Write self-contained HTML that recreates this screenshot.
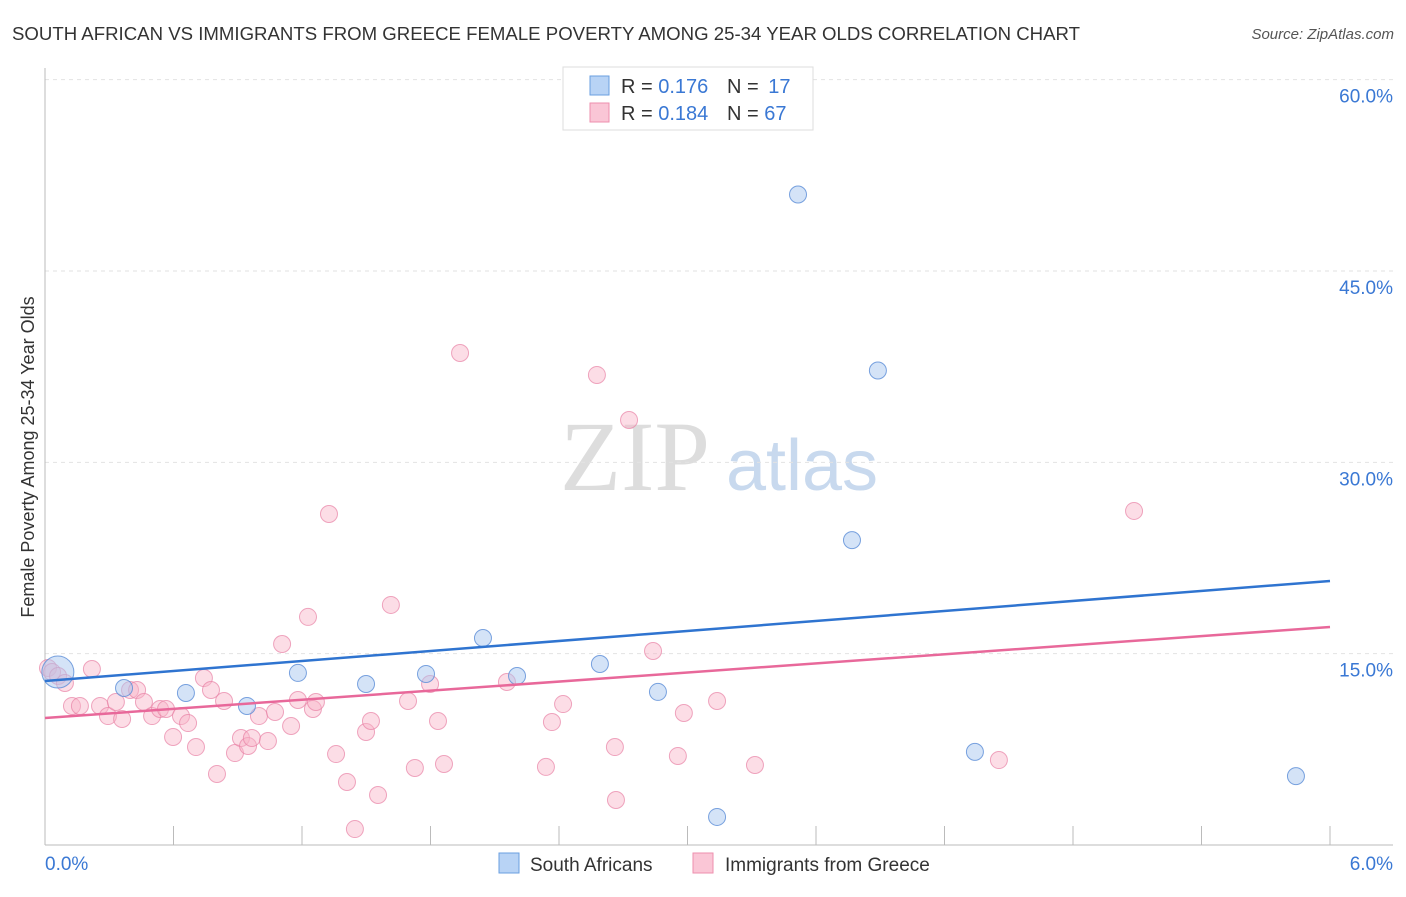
<!DOCTYPE html>
<html><head><meta charset="utf-8"><style>
body{margin:0;background:#fff;font-family:"Liberation Sans",sans-serif;}
svg text{font-family:"Liberation Sans",sans-serif;}
</style></head><body>
<svg id="chart" width="1406" height="892">
<text x="12" y="40" font-size="18" fill="#333" textLength="1068" lengthAdjust="spacingAndGlyphs">SOUTH AFRICAN VS IMMIGRANTS FROM GREECE FEMALE POVERTY AMONG 25-34 YEAR OLDS CORRELATION CHART</text>
<text x="1394" y="39" font-size="15" fill="#555" text-anchor="end" font-style="italic">Source: ZipAtlas.com</text>
<text x="635" y="490" font-size="100" fill="#ddd" style="font-family:'Liberation Serif',serif" text-anchor="middle">ZIP</text>
<text x="802" y="490" font-size="72" fill="#c8d9ee" text-anchor="middle">atlas</text>
<text transform="translate(34,457) rotate(-90)" font-size="18" fill="#333" text-anchor="middle">Female Poverty Among 25-34 Year Olds</text>
<g id="grid"></g><g id="marks"></g>
<g>
<rect x="563" y="67" width="250" height="63" fill="#fff" stroke="#ddd"/>
<rect x="590" y="76" width="19" height="19" fill="#b8d3f5" stroke="#6a9fe0"/>
<rect x="590" y="103" width="19" height="19" fill="#fac6d6" stroke="#ee8fae"/>
<text x="621" y="93" font-size="20" fill="#333">R = <tspan fill="#3a78d4">0.176</tspan></text>
<text x="727" y="93" font-size="20" fill="#333">N = <tspan fill="#3a78d4" dx="4">17</tspan></text>
<text x="621" y="120" font-size="20" fill="#333">R = <tspan fill="#3a78d4">0.184</tspan></text>
<text x="727" y="120" font-size="20" fill="#333">N = <tspan fill="#3a78d4">67</tspan></text>
</g>
<g>
<rect x="499" y="853" width="20" height="20" fill="#b8d3f5" stroke="#6a9fe0"/>
<text x="530" y="871" font-size="19" fill="#333">South Africans</text>
<rect x="693" y="853" width="20" height="20" fill="#fac6d6" stroke="#ee8fae"/>
<text x="725" y="871" font-size="19" fill="#333">Immigrants from Greece</text>
</g>
</svg>
<script>
const yTicks=[15,30,45,60];
const xTickLabels=["0.0%","6.0%"];
const blueX=[0.06,0.369,0.658,0.943,1.181,1.499,1.779,2.045,2.204,2.591,2.862,3.138,3.516,3.768,3.889,4.342,5.841];
const blueY=[13.56,12.31,11.92,10.90,13.49,12.62,13.41,16.23,13.25,14.19,12.0,2.2,51.0,23.9,37.2,7.3,5.4];
const pinkX=[0.014,0.033,0.061,0.093,0.126,0.163,0.219,0.257,0.294,0.331,0.360,0.397,0.430,0.462,0.500,0.537,0.565,0.598,0.635,0.668,0.705,0.742,0.775,0.803,0.836,0.887,0.915,0.948,0.966,0.999,1.041,1.074,1.107,1.149,1.181,1.228,1.251,1.265,1.326,1.359,1.410,1.447,1.499,1.522,1.555,1.615,1.695,1.727,1.798,1.835,1.863,1.938,2.157,2.339,2.367,2.419,2.577,2.661,2.666,2.727,2.839,2.955,2.983,3.138,3.315,4.454,5.085];
const pinkY=[13.88,13.56,13.25,12.70,10.90,10.90,13.80,10.90,10.11,11.21,9.88,12.15,12.15,11.21,10.11,10.66,10.66,8.47,10.11,9.56,7.68,13.09,12.15,5.57,11.29,7.21,8.39,7.76,8.39,10.11,8.15,10.43,15.76,9.33,11.37,17.88,10.66,11.21,25.95,7.13,4.94,1.25,8.86,9.72,3.92,18.82,11.29,6.04,12.62,9.72,6.35,38.57,12.78,6.12,9.64,11.05,36.85,7.68,3.53,33.32,15.21,6.98,10.35,11.29,6.27,6.66,26.19];
const blueLine=[12.86,20.7];
const pinkLine=[9.96,17.09];
const NS="http://www.w3.org/2000/svg";
const sx=v=>45+v/6*1285, sy=v=>845-v/15*191.33;
function mk(tag,attrs,parent){const e=document.createElementNS(NS,tag);for(const k in attrs)e.setAttribute(k,attrs[k]);parent.appendChild(e);return e;}
const grid=document.getElementById('grid'), marks=document.getElementById('marks');
yTicks.forEach(t=>{
 const l=mk('line',{x1:45,x2:1393,y1:sy(t),y2:sy(t),stroke:'#e2e2e2','stroke-dasharray':'4,4'},grid);
 
 
 const tx=mk('text',{x:1393,y:sy(t)+23,'font-size':19,fill:'#3a78d4','text-anchor':'end'},grid);tx.textContent=t.toFixed(1)+'%';
 
 
});
mk('line',{x1:45,x2:45,y1:68,y2:845,stroke:'#bbb'},grid);
mk('line',{x1:45,x2:1393,y1:845,y2:845,stroke:'#bbb'},grid);
for(let i=0;i<=10;i++){mk('line',{x1:sx(i*0.6),x2:sx(i*0.6),y1:826,y2:845,stroke:'#bbb'},grid);}
const xl0=mk('text',{x:45,y:870,'font-size':19,fill:'#3a78d4'},grid);xl0.textContent=xTickLabels[0];


const xl1=mk('text',{x:1393,y:870,'font-size':19,fill:'#3a78d4','text-anchor':'end'},grid);xl1.textContent=xTickLabels[1];


pinkX.forEach((x,i)=>{const c=mk('circle',{cx:sx(x),cy:sy(pinkY[i]),r:8.5,fill:'rgba(248,180,200,0.45)',stroke:'rgba(232,130,165,0.7)','stroke-width':1},marks);
 
 });
blueX.forEach((x,i)=>{const c=mk('circle',{cx:sx(x),cy:sy(blueY[i]),r:i===0?16:8.5,fill:'rgba(170,200,240,0.5)',stroke:'rgba(90,140,215,0.8)','stroke-width':1},marks);
 
 });
const bl=mk('line',{x1:sx(0),y1:sy(blueLine[0]),x2:sx(6),y2:sy(blueLine[1]),stroke:'#2f74d0','stroke-width':2.5},marks);


const pl=mk('line',{x1:sx(0),y1:sy(pinkLine[0]),x2:sx(6),y2:sy(pinkLine[1]),stroke:'#e8689a','stroke-width':2.5},marks);


</script>
</body></html>
